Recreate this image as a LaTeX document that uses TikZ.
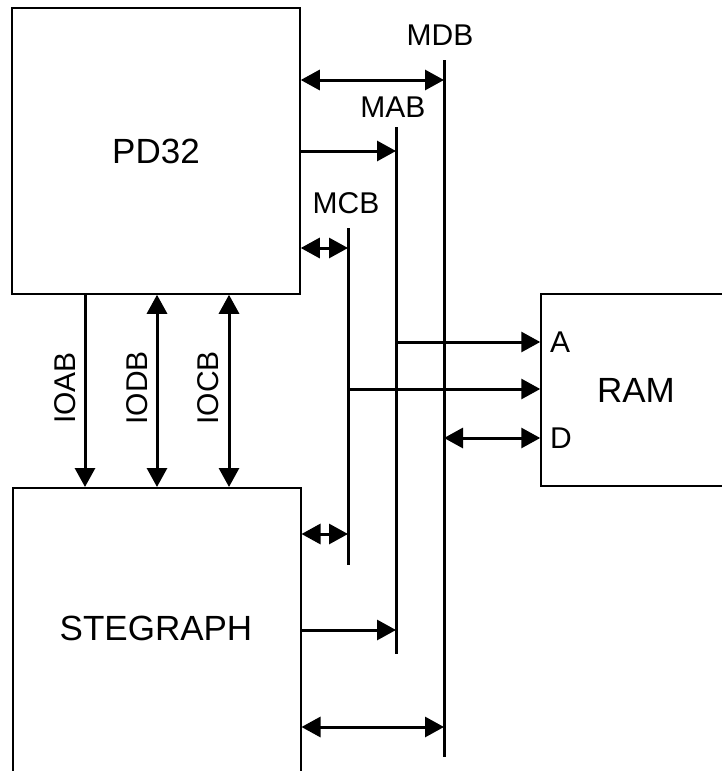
\documentclass[tikz,border=0pt]{standalone}
\usepackage{fontspec}
\setmainfont{Liberation Sans}
\usetikzlibrary{arrows.meta}
\begin{document}
\begin{tikzpicture}[x=1pt,y=-1pt,
 box/.style={draw, line width=1.5pt, rectangle, inner sep=0pt},
 bigtxt/.style={font=\fontsize{35}{40}\selectfont, inner sep=0pt},
 smalltxt/.style={font=\fontsize{30}{36}\selectfont, inner sep=0pt},
 bus/.style={line width=3pt},
 conn/.style={line width=3pt, -{Triangle[length=19pt,width=20pt]}},
 dconn/.style={line width=3pt, {Triangle[length=19pt,width=20pt]}-{Triangle[length=19pt,width=20pt]}},
]
\clip (0,0) rectangle (722,771);
\fill[white] (0,0) rectangle (722,771);
% boxes
\node[box, bigtxt, minimum width=288pt, minimum height=286pt] (PD32) at (156,151) {PD32};
\node[box, minimum width=288pt, minimum height=303pt, anchor=north west] (STEG) at (12,487) {};
\node[bigtxt] (stegtxt) at (156,628) {STEGRAPH};
\node[box, bigtxt, minimum width=190pt, minimum height=192pt] (RAM) at (636,390) {RAM};
\node[smalltxt, anchor=west] (Alab) at (550,342) {A};
\node[smalltxt, anchor=west] (Dlab) at (550,438) {D};
% buses
\coordinate (mdbT) at (444,60);
\coordinate (mdbB) at (444,757);
\coordinate (mabT) at (396,127);
\coordinate (mabB) at (396,654);
\coordinate (mcbT) at (348,228);
\coordinate (mcbB) at (348,565);
\draw[bus] (mdbT) -- (mdbB);
\draw[bus] (mabT) -- (mabB);
\draw[bus] (mcbT) -- (mcbB);
\node[smalltxt] (MDB) at (440,35) {MDB};
\node[smalltxt] (MAB) at (393,107) {MAB};
\node[smalltxt] (MCB) at (346,203) {MCB};
% taps
\coordinate (mdb1) at (444,80);
\coordinate (mab1) at (396,151);
\coordinate (mcb1) at (348,248);
\coordinate (mcb2) at (348,534);
\coordinate (mab2) at (396,630);
\coordinate (mdb2) at (444,727);
\coordinate (mab3) at (396,342);
\coordinate (mcb3) at (348,389);
\coordinate (mdb3) at (444,438);
\draw[dconn] (PD32.east |- mdb1) -- (mdb1);
\draw[conn] (PD32.east |- mab1) -- (mab1);
\draw[dconn] (PD32.east |- mcb1) -- (mcb1);
\draw[dconn] (STEG.east |- mcb2) -- (mcb2);
\draw[conn] (STEG.east |- mab2) -- (mab2);
\draw[dconn] (STEG.east |- mdb2) -- (mdb2);
\draw[conn] (mab3) -- (RAM.west |- mab3);
\draw[conn] (mcb3) -- (RAM.west |- mcb3);
\draw[dconn] (mdb3) -- (RAM.west |- mdb3);
% IO buses
\coordinate (ioa) at (85,0);
\coordinate (iod) at (157,0);
\coordinate (ioc) at (229,0);
\draw[conn] (PD32.south -| ioa) -- (STEG.north -| ioa);
\draw[dconn] (PD32.south -| iod) -- (STEG.north -| iod);
\draw[dconn] (PD32.south -| ioc) -- (STEG.north -| ioc);
\node[smalltxt, rotate=90] (IOAB) at (65,388) {IOAB};
\node[smalltxt, rotate=90] (IODB) at (137,388) {IODB};
\node[smalltxt, rotate=90] (IOCB) at (208,388) {IOCB};
\end{tikzpicture}
\end{document}
